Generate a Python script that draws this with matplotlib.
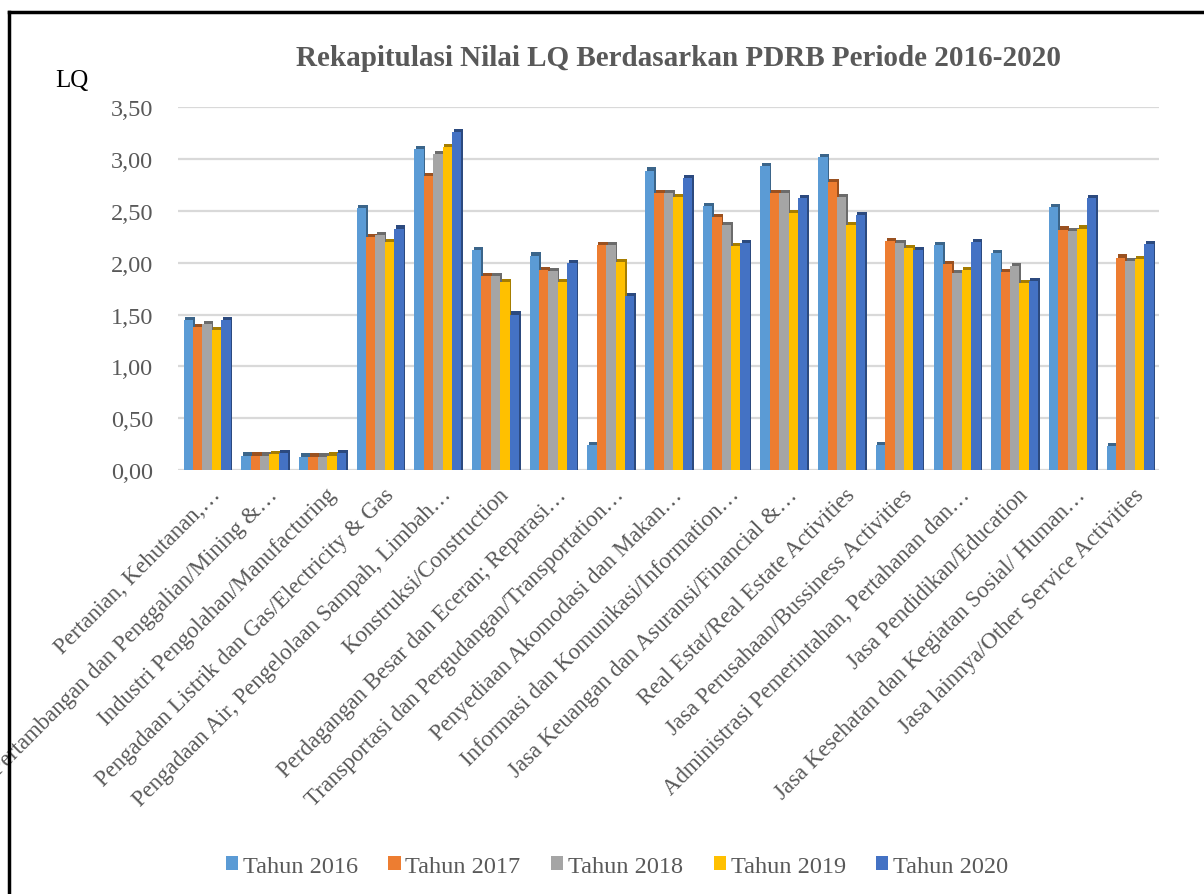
import matplotlib
matplotlib.use("Agg")
import matplotlib.pyplot as plt
import matplotlib.colors as mcolors
from matplotlib.lines import Line2D
from matplotlib.patches import Patch
import numpy as np

categories = [
    "Pertanian, Kehutanan,…",
    "Pertambangan dan Penggalian/Mining &…",
    "Industri Pengolahan/Manufacturing",
    "Pengadaan Listrik dan Gas/Electricity & Gas",
    "Pengadaan Air, Pengelolaan Sampah, Limbah…",
    "Konstruksi/Construction",
    "Perdagangan Besar dan Eceran; Reparasi…",
    "Transportasi dan Pergudangan/Transportation…",
    "Penyediaan Akomodasi dan Makan…",
    "Informasi dan Komunikasi/Information…",
    "Jasa Keuangan dan Asuransi/Financial &…",
    "Real Estat/Real Estate Activities",
    "Jasa Perusahaan/Bussiness Activities",
    "Administrasi Pemerintahan, Pertahanan dan…",
    "Jasa Pendidikan/Education",
    "Jasa Kesehatan dan Kegiatan Sosial/ Human…",
    "Jasa lainnya/Other Service Activities",
]

series_names = ["Tahun 2016", "Tahun 2017", "Tahun 2018", "Tahun 2019", "Tahun 2020"]

tahun_2016 = [1.45, 0.14, 0.13, 2.53, 3.10, 2.12, 2.07, 0.24, 2.89, 2.55, 2.93, 3.02, 0.24, 2.17, 2.09, 2.54, 0.23]
tahun_2017 = [1.38, 0.14, 0.13, 2.25, 2.84, 1.87, 1.93, 2.17, 2.67, 2.44, 2.67, 2.78, 2.21, 1.99, 1.91, 2.32, 2.05]
tahun_2018 = [1.41, 0.14, 0.13, 2.27, 3.05, 1.87, 1.92, 2.17, 2.67, 2.36, 2.67, 2.63, 2.19, 1.90, 1.97, 2.31, 2.02]
tahun_2019 = [1.35, 0.15, 0.14, 2.20, 3.12, 1.81, 1.81, 2.01, 2.63, 2.16, 2.48, 2.36, 2.14, 1.93, 1.80, 2.33, 2.04]
tahun_2020 = [1.45, 0.16, 0.16, 2.33, 3.26, 1.50, 2.00, 1.68, 2.82, 2.19, 2.62, 2.46, 2.12, 2.20, 1.82, 2.62, 2.18]

y_ticks = [0.0, 0.5, 1.0, 1.5, 2.0, 2.5, 3.0, 3.5]
y_tick_labels = ["0,00", "0,50", "1,00", "1,50", "2,00", "2,50", "3,00", "3,50"]

colors = ["#5B9BD5", "#ED7D31", "#A5A5A5", "#FFC000", "#4472C4"]
all_series = [tahun_2016, tahun_2017, tahun_2018, tahun_2019, tahun_2020]

plt.rcParams['font.family'] = ['Liberation Serif', 'DejaVu Serif']
text_color = "#595959"

fig = plt.figure(figsize=(12.04, 8.95), dpi=100)
ax = fig.add_axes([0.148, 0.4737, 0.8146, 0.4053])

x = np.arange(len(categories))
bw = 0.163
offsets = (np.arange(5) - 2) * bw
dx = 0.055
dy = 0.03

for i, (vals, col) in enumerate(zip(all_series, colors)):
    dark = np.array(mcolors.to_rgb(col)) * 0.65
    ax.bar(x + offsets[i] + dx * 0.5, np.array(vals) + dy, width=bw, color=dark,
           zorder=2 + i * 2, linewidth=0)
    ax.bar(x + offsets[i], vals, width=bw, color=col, zorder=3 + i * 2, linewidth=0)

ax.set_xlim(-0.5, len(categories) - 0.5)
ax.set_ylim(0, 3.5)
ax.set_yticks(y_ticks)
ax.set_yticklabels(y_tick_labels, fontsize=17.5, color=text_color)
ax.yaxis.grid(True, color="#D9D9D9", linewidth=1.6, zorder=0)
ax.set_axisbelow(True)
for s in ax.spines.values():
    s.set_visible(False)
ax.tick_params(axis='both', length=0)
ax.tick_params(axis='y', pad=18)

ax.set_xticks(x + 0.05)
ax.set_xticklabels(categories, rotation=45, ha='right', va='top', rotation_mode='anchor',
                   fontsize=16.5, color=text_color)
ax.tick_params(axis='x', pad=10)

fig.text(0.5635, 0.935, "Rekapitulasi Nilai LQ Berdasarkan PDRB Periode 2016-2020",
         ha='center', va='center', fontsize=21, fontweight='bold', color=text_color)
fig.text(0.046, 0.909, "LQ", ha='left', va='center', fontsize=18, color='black')

handles = [Patch(facecolor=c, edgecolor='none') for c in colors]
fig.legend(handles, series_names, loc='center', bbox_to_anchor=(0.5125, 0.031), ncol=5,
           frameon=False, fontsize=17.5, handlelength=0.5, handleheight=0.5,
           handletextpad=0.2, columnspacing=1.25, labelcolor=text_color)

# outer border (top and left)
fig.add_artist(Line2D([0.0075, 1.0], [0.9855, 0.9855], color='black', lw=2.5,
                      transform=fig.transFigure))
fig.add_artist(Line2D([0.0075, 0.0075], [0.0, 0.9855], color='black', lw=2.5,
                      transform=fig.transFigure))

fig.savefig("out.png", dpi=100, facecolor='white')
